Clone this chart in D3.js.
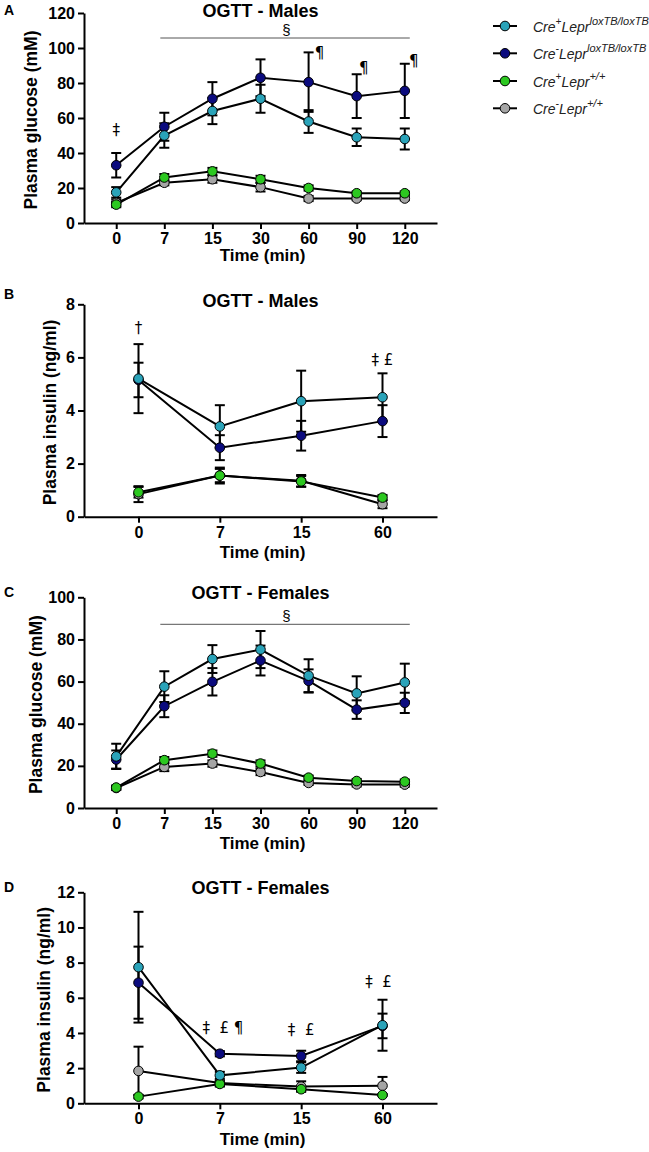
<!DOCTYPE html>
<html><head><meta charset="utf-8">
<script src="https://cdn.jsdelivr.net/npm/d3@7"></script>
<style>
html,body{margin:0;padding:0;background:#fff;}
svg{display:block;font-family:"Liberation Sans",Arial,sans-serif;}
</style></head>
<body><svg id="c" width="649" height="1152"></svg>
<script>
// ---------- data ----------
const timesGlucose = ["0","7","15","30","60","90","120"];
const timesInsulin = ["0","7","15","60"];
const seriesColors = ["#2aa3b9","#0b0b7e","#2cc820","#a5a5a5"]; // Cre+lox, Cre-lox, Cre+ +/+, Cre- +/+

// Panel A: OGTT glucose, males
const aCrePlusLox   = [17.5, 50, 64, 71, 58, 49, 48];
const aCrePlusLoxE  = [3, 7, 7.5, 8, 6.5, 5, 6];
const aCreMinusLox  = [33, 55, 71, 83, 80.5, 72.5, 75.5];
const aCreMinusLoxE = [7, 8, 9.5, 10.5, 17, 12.5, 15.5];
const aCrePlusWT    = [10.5, 26, 29.5, 25, 20, 17, 17];
const aCrePlusWTE   = [1.5, 2, 2, 2, 1.5, 1, 1];
const aCreMinusWT   = [11.5, 23, 25, 20.5, 14, 14, 14];
const aCreMinusWTE  = [2, 1.5, 2, 2.5, 1.5, 1, 1];

// Panel B: insulin, males
const bCrePlusLox   = [5.2, 3.4, 4.35, 4.5];
const bCrePlusLoxE  = [1.3, 0.8, 1.15, 0.9];
const bCreMinusLox  = [5.15, 2.6, 3.05, 3.6];
const bCreMinusLoxE = [0.65, 0.47, 0.56, 0.6];
const bCrePlusWT    = [0.92, 1.55, 1.33, 0.72];
const bCrePlusWTE   = [0.2, 0.25, 0.2, 0.1];
const bCreMinusWT   = [0.85, 1.55, 1.35, 0.47];
const bCreMinusWTE  = [0.3, 0.3, 0.22, 0.15];

// Panel C: glucose, females
const cCrePlusLox   = [24.5, 57.6, 70.7, 75.2, 62.8, 54.4, 59.6];
const cCrePlusLoxE  = [6, 7.3, 6.6, 8.8, 7.8, 8.1, 8.9];
const cCreMinusLox  = [23, 48.3, 59.9, 70, 60.3, 46.7, 49.9];
const cCreMinusLoxE = [4.3, 5.2, 6.5, 7.1, 5.5, 4.4, 4.8];
const cCrePlusWT    = [9.7, 22.7, 25.8, 21.1, 14.4, 12.8, 12.5];
const cCrePlusWTE   = [1, 1.5, 1.5, 1.5, 1, 1, 1];
const cCreMinusWT   = [9.5, 19.5, 21.1, 17.1, 11.9, 11.2, 11.1];
const cCreMinusWTE  = [1, 2, 1.5, 1.5, 1, 1, 1];

// Panel D: insulin, females
const dCrePlusLox   = [7.74, 1.59, 2.03, 4.44];
const dCrePlusLoxE  = [3.15, 0.2, 0.3, 1.45];
const dCreMinusLox  = [6.86, 2.82, 2.69, 4.4];
const dCreMinusLoxE = [2.05, 0.15, 0.3, 0.7];
const dCrePlusWT    = [0.38, 1.1, 0.8, 0.47];
const dCrePlusWTE   = [0.1, 0.15, 0.1, 0.05];
const dCreMinusWT   = [1.84, 1.15, 0.95, 1.0];
const dCreMinusWTE  = [1.38, 0.15, 0.3, 0.5];

// significance annotations: [text, category, value, x-nudge]
const aAnnots = [["‡","0",50.3,0],["¶","60",94.3,11],["¶","90",85.7,7],["¶","120",89.7,9]];
const bAnnots = [["†","0",6.92,0],["‡ £","60",5.71,0]];
const cAnnots = [];
const dAnnots = [["‡  £ ¶","7",4.0,3],["‡  £","15",3.88,0],["‡  £","60",6.6,-4]];

const legendLabels = [["Cre","+","Lepr","loxTB/loxTB"],["Cre","-","Lepr","loxTB/loxTB"],["Cre","+","Lepr","+/+"],["Cre","-","Lepr","+/+"]];

// ---------- layout ----------
const svg = d3.select("#c");
const X0 = 84, X1 = 437;

const panels = [
  {letter:"A", title:"OGTT - Males", ylab:"Plasma glucose (mM)", cats:timesGlucose, yMax:120, yStep:20,
   y0:223, y1:13, titleY:17, letterY:15, ylabX:37, xlabY:261, annots:aAnnots, bar:{from:"7",to:"120",y:38},
   series:[[aCreMinusWT,aCreMinusWTE,3],[aCrePlusWT,aCrePlusWTE,2],[aCreMinusLox,aCreMinusLoxE,1],[aCrePlusLox,aCrePlusLoxE,0]]},
  {letter:"B", title:"OGTT - Males", ylab:"Plasma insulin (ng/ml)", cats:timesInsulin, yMax:8, yStep:2,
   y0:516.7, y1:304.3, titleY:307, letterY:299, ylabX:56, xlabY:558, annots:bAnnots, bar:null,
   series:[[bCreMinusWT,bCreMinusWTE,3],[bCrePlusWT,bCrePlusWTE,2],[bCreMinusLox,bCreMinusLoxE,1],[bCrePlusLox,bCrePlusLoxE,0]]},
  {letter:"C", title:"OGTT - Females", ylab:"Plasma glucose (mM)", cats:timesGlucose, yMax:100, yStep:20,
   y0:808, y1:597.3, titleY:598.5, letterY:597, ylabX:42, xlabY:849, annots:cAnnots, bar:{from:"7",to:"120",y:624.3},
   series:[[cCreMinusWT,cCreMinusWTE,3],[cCrePlusWT,cCrePlusWTE,2],[cCreMinusLox,cCreMinusLoxE,1],[cCrePlusLox,cCrePlusLoxE,0]]},
  {letter:"D", title:"OGTT - Females", ylab:"Plasma insulin (ng/ml)", cats:timesInsulin, yMax:12, yStep:2,
   y0:1103.3, y1:892.3, titleY:893.5, letterY:891.5, ylabX:50, xlabY:1145, annots:dAnnots, bar:null,
   series:[[dCreMinusWT,dCreMinusWTE,3],[dCrePlusWT,dCrePlusWTE,2],[dCreMinusLox,dCreMinusLoxE,1],[dCrePlusLox,dCrePlusLoxE,0]]}
];

panels.forEach(p => {
  const g = svg.append("g");
  const x = d3.scalePoint().domain(p.cats).range([X0, X1]).padding(0.67);
  const y = d3.scaleLinear().domain([0, p.yMax]).range([p.y0, p.y1]);

  // axes
  const ya = g.append("g").attr("transform", `translate(${X0},0)`)
    .call(d3.axisLeft(y).tickValues(d3.range(0, p.yMax + 0.001, p.yStep)).tickSize(6).tickSizeOuter(0).tickPadding(3));
  const xa = g.append("g").attr("transform", `translate(0,${p.y0})`)
    .call(d3.axisBottom(x).tickSize(6).tickSizeOuter(0).tickPadding(3));
  [ya, xa].forEach(a => {
    a.selectAll("path,line").attr("stroke", "#000").attr("stroke-width", 2);
    a.selectAll("text").attr("fill", "#000").style("font-size", "16px").style("font-weight", "bold")
      .style("font-family", '"Liberation Sans",Arial,sans-serif');
  });
  xa.selectAll("text").attr("dy", 0).attr("y", 21);

  // titles
  g.append("text").attr("x", (X0 + X1) / 2).attr("y", p.titleY).attr("text-anchor", "middle").attr("fill", "#000")
    .style("font-size", "18px").style("font-weight", "bold").text(p.title);
  g.append("text").attr("x", 4).attr("y", p.letterY).attr("fill", "#000").style("font-size", "14px").style("font-weight", "bold").text(p.letter);
  g.append("text").attr("transform", `translate(${p.ylabX},${(p.y0 + p.y1) / 2 + 2}) rotate(-90)`).attr("fill", "#000")
    .attr("text-anchor", "middle").style("font-size", "17.5px").style("font-weight", "bold").text(p.ylab);
  g.append("text").attr("x", (X0 + X1) / 2 + 2).attr("y", p.xlabY).attr("text-anchor", "middle").attr("fill", "#000")
    .style("font-size", "17px").style("font-weight", "bold").text("Time (min)");

  // significance bar
  if (p.bar) {
    g.append("line").attr("x1", x(p.bar.from) - 4).attr("x2", x(p.bar.to) + 5)
      .attr("y1", p.bar.y).attr("y2", p.bar.y).attr("stroke", "#555").attr("stroke-width", 1);
    g.append("text").attr("x", (x(p.bar.from) + x(p.bar.to)) / 2 + 2).attr("y", p.bar.y - 3).attr("fill", "#000")
      .attr("text-anchor", "middle").style("font-size", "15px").text("§");
  }

  // error bars + lines
  p.series.forEach(([vals, errs]) => {
    const eg = g.append("g").attr("stroke", "#000").attr("stroke-width", 2);
    vals.forEach((v, i) => {
      const cx = x(p.cats[i]), e = errs[i];
      eg.append("line").attr("x1", cx).attr("x2", cx).attr("y1", y(v - e)).attr("y2", y(v + e));
      eg.append("line").attr("x1", cx - 5).attr("x2", cx + 5).attr("y1", y(v + e)).attr("y2", y(v + e));
      eg.append("line").attr("x1", cx - 5).attr("x2", cx + 5).attr("y1", y(v - e)).attr("y2", y(v - e));
    });
  });
  p.series.forEach(([vals]) => {
    g.append("path").datum(vals)
      .attr("d", d3.line().x((d, i) => x(p.cats[i])).y(d => y(d)))
      .attr("fill", "none").attr("stroke", "#000").attr("stroke-width", 2);
  });
  p.series.forEach(([vals, errs, ci]) => {
    g.append("g").selectAll("circle").data(vals).join("circle")
      .attr("cx", (d, i) => x(p.cats[i])).attr("cy", d => y(d)).attr("r", 4.8)
      .attr("fill", seriesColors[ci]).attr("stroke", "#000").attr("stroke-width", 1);
  });

  // annotations
  p.annots.forEach(([t, c, v, dx]) => {
    g.append("text").attr("x", x(c) + dx).attr("y", y(v)).attr("text-anchor", "middle").attr("fill", "#000")
      .style("font-family", '"DejaVu Sans",sans-serif')
      .style("font-size", "15px").style("white-space", "pre").attr("xml:space", "preserve").text(t);
  });
});

// ---------- legend ----------
const legendY = [26, 53.3, 81, 108.3];
legendLabels.forEach((lab, i) => {
  const lg = svg.append("g").attr("transform", `translate(0,${legendY[i]})`);
  lg.append("line").attr("x1", 493).attr("x2", 517).attr("stroke", "#000").attr("stroke-width", 2);
  lg.append("circle").attr("cx", 505).attr("r", 4.8).attr("fill", seriesColors[i]).attr("stroke", "#000").attr("stroke-width", 1);
  const t = lg.append("text").attr("x", 533).attr("y", 5.5).attr("fill", "#222")
    .style("font-size", "14px").style("font-style", "italic");
  t.append("tspan").text(lab[0]);
  t.append("tspan").attr("dy", -6.5).style("font-size", "10px").text(lab[1]);
  t.append("tspan").attr("dy", 6.5).text(lab[2]);
  t.append("tspan").attr("dy", -6.5).style("font-size", "11px").text(lab[3]);
});
</script></body></html>
